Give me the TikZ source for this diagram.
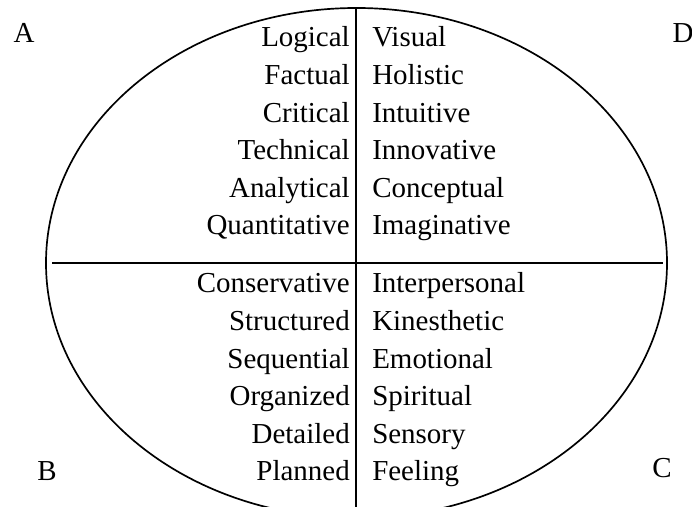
\documentclass[tikz,border=0pt]{standalone}
\usepackage{fontspec}
\setmainfont{Liberation Serif}
\usepackage{tikz}
\usetikzlibrary{positioning}

\begin{document}
\begin{tikzpicture}
	\tikzstyle{every node} = [inner sep=0pt, font=\fontsize{20.6}{24}\selectfont]
	\tikzstyle{leftword} = [anchor=base east]
	\tikzstyle{rightword} = [anchor=base west]
	\tikzstyle{corner} = [anchor=base]
	\useasboundingbox (0,0) rectangle (17.3,12.65);

	% the oval and the two dividing lines
	\coordinate (ctr) at (8.9125,6.075);
	\coordinate (top) at (8.9,12.45);
	\coordinate (bot) at (8.9,-0.3);
	\coordinate (west) at (1.3,6.075);
	\coordinate (east) at (16.575,6.075);
	\draw[line width=1.2pt] (ctr) ellipse [x radius=7.7625, y radius=6.375];
	\draw[line width=1.2pt] (top) -- (bot);
	\draw[line width=1.2pt] (west) -- (east);

	% quadrant letters
	\node[corner] (A) at (0.6,11.575) {A};
	\node[corner] (D) at (17.075,11.575) {D};
	\node[corner] (B) at (1.175,0.625) {B};
	\node[corner] (C) at (16.55,0.7) {C};

	% upper half
	\node[leftword] (Logical) at (8.75,11.475) {Logical};
	\node[leftword] (Factual) at (8.75,10.535) {Factual};
	\node[leftword] (Critical) at (8.75,9.595) {Critical};
	\node[leftword] (Technical) at (8.75,8.655) {Technical};
	\node[leftword] (Analytical) at (8.75,7.715) {Analytical};
	\node[leftword] (Quantitative) at (8.75,6.775) {Quantitative};

	\node[rightword] (Visual) at (9.3,11.475) {Visual};
	\node[rightword] (Holistic) at (9.3,10.535) {Holistic};
	\node[rightword] (Intuitive) at (9.3,9.595) {Intuitive};
	\node[rightword] (Innovative) at (9.3,8.655) {Innovative};
	\node[rightword] (Conceptual) at (9.3,7.715) {Conceptual};
	\node[rightword] (Imaginative) at (9.3,6.775) {Imaginative};

	% lower half
	\node[leftword] (Conservative) at (8.75,5.325) {Conservative};
	\node[leftword] (Structured) at (8.75,4.385) {Structured};
	\node[leftword] (Sequential) at (8.75,3.445) {Sequential};
	\node[leftword] (Organized) at (8.75,2.505) {Organized};
	\node[leftword] (Detailed) at (8.75,1.565) {Detailed};
	\node[leftword] (Planned) at (8.75,0.625) {Planned};

	\node[rightword] (Interpersonal) at (9.3,5.325) {Interpersonal};
	\node[rightword] (Kinesthetic) at (9.3,4.385) {Kinesthetic};
	\node[rightword] (Emotional) at (9.3,3.445) {Emotional};
	\node[rightword] (Spiritual) at (9.3,2.505) {Spiritual};
	\node[rightword] (Sensory) at (9.3,1.565) {Sensory};
	\node[rightword] (Feeling) at (9.3,0.625) {Feeling};

\end{tikzpicture}
\end{document}
